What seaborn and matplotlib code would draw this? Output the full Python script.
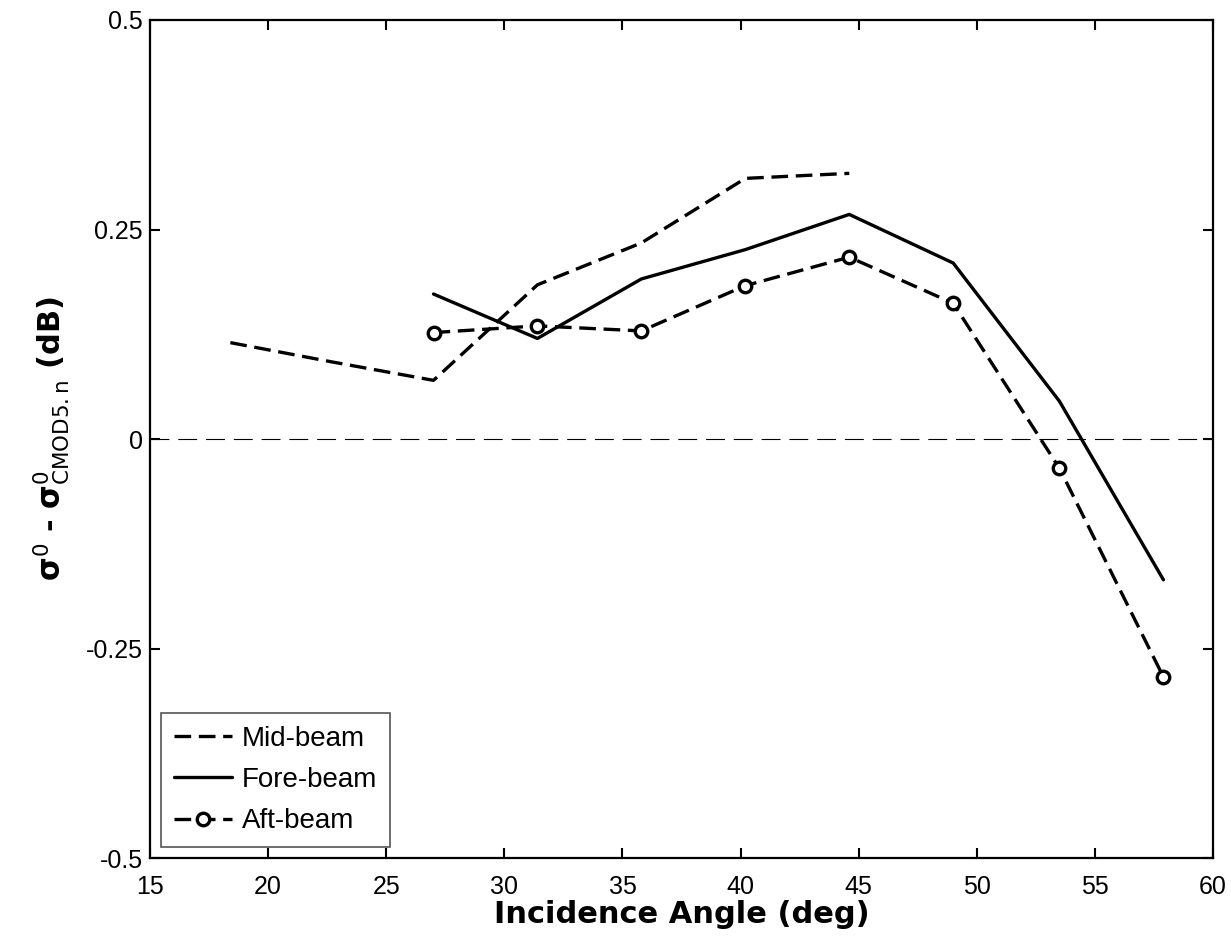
import pandas as pd
import matplotlib
matplotlib.use('Agg')
import matplotlib.pyplot as plt
import seaborn as sns

# Dados
angulo_mid = [18.4, 22.7, 27.0, 31.4, 35.8, 40.2, 44.6]
mid_beam = [0.115, 0.092, 0.070, 0.184, 0.234, 0.311, 0.317]

angulo_fa = [27.0, 31.4, 35.8, 40.2, 44.6, 49.0, 53.5, 57.9]
fore_beam = [0.173, 0.120, 0.191, 0.226, 0.268, 0.210, 0.045, -0.168]
aft_beam = [0.127, 0.135, 0.129, 0.183, 0.217, 0.162, -0.035, -0.284]

x_ticks = [15, 20, 25, 30, 35, 40, 45, 50, 55, 60]
y_ticks = [-0.5, -0.25, 0, 0.25, 0.5]
y_tick_labels = ['-0.5', '-0.25', '0', '0.25', '0.5']

sns.set_style('ticks')
plt.rcParams['font.family'] = ['Liberation Sans', 'DejaVu Sans']
plt.rcParams['text.color'] = 'black'
plt.rcParams['axes.labelcolor'] = 'black'
plt.rcParams['xtick.color'] = 'black'
plt.rcParams['ytick.color'] = 'black'
plt.rcParams['lines.dashed_pattern'] = [5, 2.3]

df_mid = pd.DataFrame({'angulo': angulo_mid, 'valor': mid_beam})
df_fa = pd.DataFrame({'angulo': angulo_fa, 'fore': fore_beam, 'aft': aft_beam})

fig = plt.figure(figsize=(12.31, 9.52), dpi=100)
ax = fig.add_axes([0.1219, 0.0987, 0.8635, 0.8803])

ax.axhline(0, color='black', linewidth=0.8, dashes=(17, 8), zorder=1)

sns.lineplot(data=df_mid, x='angulo', y='valor', ax=ax, color='black',
             linewidth=2.4, linestyle='--', label='Mid-beam')
sns.lineplot(data=df_fa, x='angulo', y='fore', ax=ax, color='black',
             linewidth=2.4, linestyle='-', label='Fore-beam')
sns.lineplot(data=df_fa, x='angulo', y='aft', ax=ax, color='black',
             linewidth=2.4, linestyle='--', marker='o', markersize=9,
             markerfacecolor='white', markeredgecolor='black',
             markeredgewidth=2.4, label='Aft-beam')

ax.set_xlim(15, 60)
ax.set_ylim(-0.5, 0.5)
ax.set_xticks(x_ticks)
ax.set_yticks(y_ticks)
ax.set_yticklabels(y_tick_labels)
ax.tick_params(direction='in', length=7, width=1.5, labelsize=18,
               top=True, right=True)
ax.tick_params(axis='x', pad=12)
ax.tick_params(axis='y', pad=5)
for s in ax.spines.values():
    s.set_linewidth(1.6)
    s.set_color('black')

ax.set_xlabel('Incidence Angle (deg)', fontsize=22, fontweight='bold',
              family='DejaVu Sans', labelpad=1)
ax.set_ylabel('σ$^0$ - σ$^0_{\\mathrm{CMOD5.n}}$ (dB)', fontsize=22,
              fontweight='bold', family='DejaVu Sans', labelpad=10)

leg = ax.legend(loc='lower left', fontsize=20, frameon=True, fancybox=False,
                handlelength=2.1, borderpad=0.45, labelspacing=0.55,
                handletextpad=0.35, borderaxespad=0.4)
leg.get_frame().set_edgecolor('#555555')
leg.get_frame().set_linewidth(1.2)
leg.get_frame().set_alpha(1)

plt.savefig('out.png', dpi=100)
